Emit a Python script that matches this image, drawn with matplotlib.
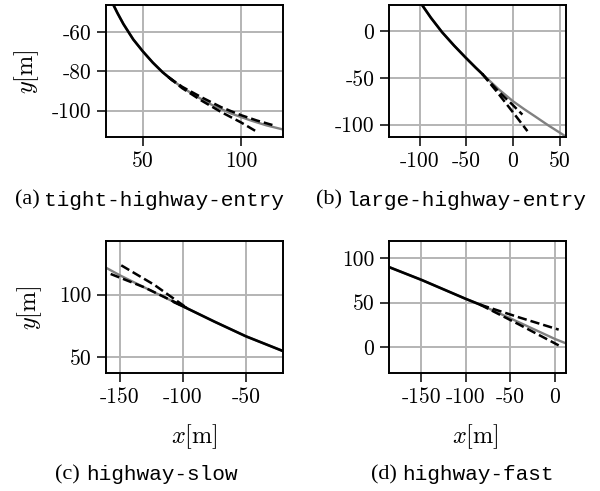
import matplotlib
matplotlib.use("Agg")
import matplotlib.pyplot as plt

plt.rcParams['font.family'] = 'serif'
plt.rcParams['font.serif'] = ['cmr10', 'DejaVu Serif']
plt.rcParams['mathtext.fontset'] = 'cm'
plt.rcParams['axes.unicode_minus'] = False
plt.rcParams['axes.formatter.use_mathtext'] = False

# (a) tight-highway-entry
ref_a_x = [34.5, 37, 40, 45, 50, 55, 60, 65, 70, 77, 85, 95, 105, 113, 121.5]
ref_a_y = [-45.5, -50.5, -56, -63.8, -70, -75.6, -80.5, -84.6, -88.2, -92.6, -97,
           -101.5, -105, -107.5, -109.6]
hist_a_x = [34.5, 37, 40, 45, 50, 55, 60, 65]
hist_a_y = [-45.5, -50.5, -56, -63.8, -70, -75.6, -80.5, -84.6]
pred_a1_x = [63, 70, 80, 90, 100, 108, 116]
pred_a1_y = [-83, -87.9, -93.3, -98.3, -102.3, -105, -107.3]
pred_a2_x = [63, 70, 80, 90, 100, 108]
pred_a2_y = [-83, -88.6, -95, -100.8, -106, -110.7]

# (b) large-highway-entry
ref_b_x = [-97, -88, -76, -63, -50, -40, -29, -15, 0, 12, 24, 38, 53, 58]
ref_b_y = [27.5, 14.5, -1, -15.5, -29, -39, -49.5, -62.5, -75, -83.5, -91.5,
           -101, -110.5, -114]
hist_b_x = [-97, -88, -76, -63, -50, -40, -33]
hist_b_y = [27.5, 14.5, -1, -15.5, -29, -39, -45.7]
pred_b1_x = [-33, -18.6, -7.9, 4.6, 15.4]
pred_b1_y = [-45.7, -63.2, -76.8, -92.9, -107]
pred_b2_x = [-33, -15, -0.7, 10]
pred_b2_y = [-45.7, -65, -78.6, -89.3]

# (c) highway-slow
ref_c_x = [-162, -150, -125, -100, -75, -50, -20]
ref_c_y = [122, 115.4, 103, 90.7, 78.5, 66.8, 54.8]
hist_c_x = [-107, -100, -75, -50, -20]
hist_c_y = [94, 90.7, 78.5, 66.8, 54.8]
pred_c1_x = [-149, -123, -97]
pred_c1_y = [123.4, 108, 89.5]
pred_c2_x = [-157.4, -131, -97]
pred_c2_y = [116.5, 106, 89.5]

# (d) highway-fast
ref_d_x = [-187, -150, -100, -84, -50, 0, 13]
ref_d_y = [90, 75.5, 54.2, 47.8, 32.5, 9.5, 4.3]
hist_d_x = [-187, -150, -100, -84]
hist_d_y = [90, 75.5, 54.2, 47.8]
pred_d1_x = [-84, -40, 4.5]
pred_d1_y = [47.8, 33.5, 19.8]
pred_d2_x = [-84, -40, 4.5]
pred_d2_y = [47.8, 25.5, 2.2]

panels = [
    dict(ref=(ref_a_x, ref_a_y), hist=(hist_a_x, hist_a_y),
         preds=[(pred_a1_x, pred_a1_y), (pred_a2_x, pred_a2_y)],
         xlim=(31.1, 121.4), ylim=(-113.4, -46.3),
         xticks=[50, 100], yticks=[-100, -80, -60],
         rect=[106, 5, 283, 137], tag='(a)', name='tight-highway-entry',
         cap=(40, 43.5, 200)),
    dict(ref=(ref_b_x, ref_b_y), hist=(hist_b_x, hist_b_y),
         preds=[(pred_b1_x, pred_b1_y), (pred_b2_x, pred_b2_y)],
         xlim=(-132.9, 56.4), ylim=(-113.3, 28.2),
         xticks=[-100, -50, 0, 50], yticks=[-100, -50, 0],
         rect=[389, 5, 565.7, 137], tag='(b)', name='large-highway-entry',
         cap=(341.7, 346.7, 200)),
    dict(ref=(ref_c_x, ref_c_y), hist=(hist_c_x, hist_c_y),
         preds=[(pred_c1_x, pred_c1_y), (pred_c2_x, pred_c2_y)],
         xlim=(-161.1, -20.6), ylim=(37.8, 142.8),
         xticks=[-150, -100, -50], yticks=[50, 100],
         rect=[106, 241, 283, 372.7], tag='(c)', name='highway-slow',
         cap=(80, 86, 475)),
    dict(ref=(ref_d_x, ref_d_y), hist=(hist_d_x, hist_d_y),
         preds=[(pred_d1_x, pred_d1_y), (pred_d2_x, pred_d2_y)],
         xlim=(-186.5, 12.4), ylim=(-28.4, 119),
         xticks=[-150, -100, -50, 0], yticks=[0, 50, 100],
         rect=[389, 241, 565.7, 372.7], tag='(d)', name='highway-fast',
         cap=(396.7, 402, 475)),
]

W, H = 600, 491
fig = plt.figure(figsize=(6, 4.91), dpi=100)

for p in panels:
    l, t, r, b = p['rect']
    ax = fig.add_axes([l / W, 1 - b / H, (r - l) / W, (b - t) / H])
    ax.set_axisbelow(True)
    ax.grid(True, color='#b4b4b4', linewidth=1.4)
    ax.plot(*p['ref'], color='#808080', linewidth=1.7, zorder=2)
    ax.plot(*p['hist'], color='black', linewidth=1.9, zorder=3)
    for px, py in p['preds']:
        ax.plot(px, py, color='black', linewidth=1.8, linestyle='--', zorder=4)
    ax.set_xlim(*p['xlim'])
    ax.set_ylim(*p['ylim'])
    ax.set_xticks(p['xticks'])
    ax.set_yticks(p['yticks'])
    ax.tick_params(length=6.5, width=1.1, labelsize=15.5, pad=4, color='black')
    for s in ax.spines.values():
        s.set_linewidth(1.4)
    xr, xl, yc = p['cap']
    fig.text(xr / W, 1 - yc / H, p['tag'], family='Liberation Serif',
             fontsize=16, ha='right', va='center')
    fig.text(xl / W, 1 - yc / H, p['name'], family='Liberation Mono',
             fontsize=15.2, ha='left', va='center')

fig.text(27 / W, 1 - 71.7 / H, r'$y[\mathrm{m}]$', fontsize=17.5,
         rotation=90, ha='center', va='center')
fig.text(30 / W, 1 - 308 / H, r'$y[\mathrm{m}]$', fontsize=17.5,
         rotation=90, ha='center', va='center')
fig.text(194 / W, 1 - 436.5 / H, r'$x[\mathrm{m}]$', fontsize=17.5,
         ha='center', va='center')
fig.text(475 / W, 1 - 436.5 / H, r'$x[\mathrm{m}]$', fontsize=17.5,
         ha='center', va='center')

fig.savefig('out.png', dpi=100)
